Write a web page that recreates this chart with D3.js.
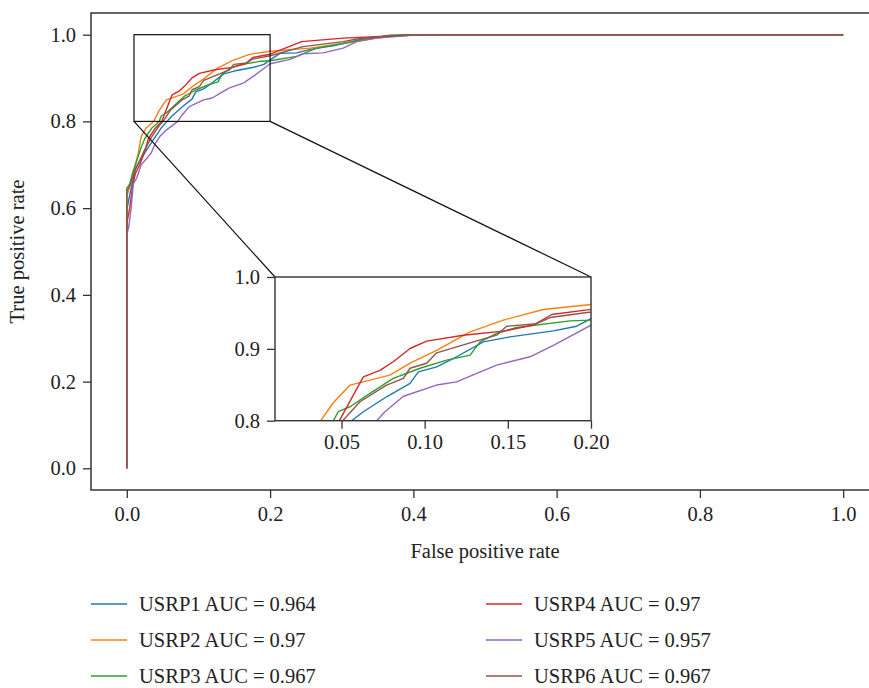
<!DOCTYPE html>
<html>
<head>
<meta charset="utf-8">
<script src="https://cdn.jsdelivr.net/npm/d3@7"></script>
<style>
    body { margin: 0; background: #fff; }
    text { font-family: "Liberation Serif", "Times New Roman", serif; fill: #222; }
</style>
</head>
<body>
<div id="chart"></div>
<script>
// ROC curves
const seriesNames = ["USRP1", "USRP2", "USRP3", "USRP4", "USRP5", "USRP6"];
const aucValues = ["0.964", "0.97", "0.967", "0.97", "0.957", "0.967"];
const colors = ["#1f77b4", "#ff7f0e", "#2ca02c", "#d62728", "#9467bd", "#8c564b"];

const fpr1 = [0, 0, 0.004, 0.008, 0.012, 0.02, 0.03, 0.04, 0.048, 0.0561, 0.0631, 0.0771, 0.0912, 0.0962, 0.1072, 0.1192, 0.1353, 0.1513, 0.1774, 0.1914, 0.2, 0.214, 0.237, 0.256, 0.29, 0.33, 0.37, 0.42, 1];
const tpr1 = [0, 0.596, 0.63, 0.66, 0.69, 0.715, 0.74, 0.765, 0.785, 0.8, 0.8125, 0.8333, 0.852, 0.868, 0.875, 0.889, 0.9097, 0.9167, 0.925, 0.9315, 0.942, 0.957, 0.958, 0.966, 0.975, 0.99, 0.998, 1, 1];

const fpr2 = [0, 0, 0.004, 0.008, 0.012, 0.016, 0.02, 0.027, 0.0375, 0.045, 0.0551, 0.0671, 0.0791, 0.0912, 0.1072, 0.1273, 0.1473, 0.1713, 0.2, 0.256, 0.311, 0.348, 0.39, 0.43, 1];
const tpr2 = [0, 0.627, 0.65, 0.68, 0.7, 0.727, 0.765, 0.785, 0.8, 0.825, 0.8496, 0.8565, 0.8635, 0.88, 0.898, 0.9236, 0.94, 0.9547, 0.9617, 0.969, 0.982, 0.992, 0.999, 1, 1];

const fpr3 = [0, 0, 0.004, 0.008, 0.012, 0.016, 0.02, 0.025, 0.035, 0.0451, 0.048, 0.0551, 0.0671, 0.0811, 0.0972, 0.1132, 0.1273, 0.1333, 0.1433, 0.1553, 0.1874, 0.2, 0.237, 0.265, 0.316, 0.367, 0.4, 1];
const tpr3 = [0, 0.646, 0.655, 0.68, 0.7, 0.72, 0.74, 0.76, 0.785, 0.8, 0.8125, 0.8194, 0.838, 0.859, 0.873, 0.8843, 0.8913, 0.9097, 0.9214, 0.9297, 0.9389, 0.94, 0.95, 0.969, 0.984, 0.999, 1, 1];

const fpr4 = [0, 0, 0.004, 0.008, 0.012, 0.018, 0.025, 0.03, 0.04, 0.0487, 0.0631, 0.0731, 0.0811, 0.0912, 0.1012, 0.1232, 0.1473, 0.1653, 0.1764, 0.2, 0.244, 0.302, 0.367, 0.41, 1];
const tpr4 = [0, 0.565, 0.6, 0.65, 0.68, 0.7, 0.73, 0.76, 0.785, 0.8, 0.861, 0.87, 0.882, 0.9005, 0.9107, 0.919, 0.9246, 0.933, 0.9478, 0.955, 0.984, 0.992, 0.997, 1, 1];

const fpr5 = [0, 0, 0.003, 0.006, 0.009, 0.014, 0.02, 0.028, 0.034, 0.04, 0.046, 0.055, 0.0711, 0.0761, 0.0872, 0.1072, 0.1192, 0.1313, 0.1433, 0.1633, 0.1774, 0.2, 0.228, 0.246, 0.274, 0.302, 0.321, 0.349, 0.4, 0.45, 1];
const tpr5 = [0, 0.538, 0.56, 0.6, 0.655, 0.67, 0.7, 0.715, 0.727, 0.75, 0.765, 0.78, 0.8, 0.8125, 0.834, 0.8496, 0.854, 0.866, 0.8774, 0.889, 0.905, 0.933, 0.943, 0.956, 0.958, 0.969, 0.984, 0.992, 0.999, 1, 1];

const fpr6 = [0, 0, 0.004, 0.008, 0.012, 0.018, 0.025, 0.035, 0.045, 0.0507, 0.0611, 0.0771, 0.0872, 0.0912, 0.1012, 0.1072, 0.1313, 0.1433, 0.1493, 0.1673, 0.1754, 0.2, 0.246, 0.302, 0.321, 0.367, 0.42, 1];
const tpr6 = [0, 0.64, 0.65, 0.67, 0.69, 0.71, 0.735, 0.765, 0.79, 0.8, 0.8264, 0.8496, 0.859, 0.873, 0.88, 0.8945, 0.911, 0.919, 0.9315, 0.935, 0.9436, 0.9514, 0.9725, 0.984, 0.99, 0.997, 1, 1];

const fprList = [fpr1, fpr2, fpr3, fpr4, fpr5, fpr6];
const tprList = [tpr1, tpr2, tpr3, tpr4, tpr5, tpr6];

const mainTicks = [0, 0.2, 0.4, 0.6, 0.8, 1.0];
const insetXTicks = [0.05, 0.10, 0.15, 0.20];
const insetYTicks = [0.8, 0.9, 1.0];
const zoomBox = {x0: 0.01, x1: 0.2, y0: 0.8, y1: 1.0};

const width = 869, height = 688;
const frameColor = "#333";

const svg = d3.select("#chart").append("svg")
    .attr("width", width)
    .attr("height", height);

const x = d3.scaleLinear().domain([-0.05, 1.05]).range([91, 879]);
const y = d3.scaleLinear().domain([-0.05, 1.05]).range([490, 13]);

const series = seriesNames.map((name, i) => ({
    name: name,
    auc: aucValues[i],
    color: colors[i],
    points: fprList[i].map((f, j) => [f, tprList[i][j]])
}));

function styleAxis(g) {
    g.select(".domain").remove();
    g.selectAll(".tick line").attr("stroke", frameColor).attr("stroke-width", 1.3);
    g.selectAll(".tick text")
        .attr("font-family", "'Liberation Serif', serif")
        .attr("font-size", 20.5)
        .attr("fill", "#222");
}

// Main axes
svg.append("g")
    .attr("transform", "translate(91,0)")
    .call(d3.axisLeft(y).tickValues(mainTicks).tickFormat(d3.format(".1f")).tickSize(8).tickPadding(7))
    .call(styleAxis);
svg.append("g")
    .attr("transform", "translate(0,490)")
    .call(d3.axisBottom(x).tickValues(mainTicks).tickFormat(d3.format(".1f")).tickSize(8).tickPadding(8))
    .call(styleAxis);

// Main lines
const mainLine = d3.line().x(d => x(d[0])).y(d => y(d[1]));
svg.append("g").selectAll("path")
    .data(series)
    .join("path")
    .attr("d", d => mainLine(d.points))
    .attr("fill", "none")
    .attr("stroke", d => d.color)
    .attr("stroke-width", 1.4)
    .attr("stroke-linejoin", "round");

// Frame (right spine falls outside the picture)
svg.append("rect")
    .attr("x", 91).attr("y", 13)
    .attr("width", 879 - 91).attr("height", 490 - 13)
    .attr("fill", "none")
    .attr("stroke", frameColor)
    .attr("stroke-width", 1.5);

// Axis titles
svg.append("text")
    .attr("x", x(0.5)).attr("y", 558)
    .attr("text-anchor", "middle")
    .attr("font-size", 20.5)
    .text("False positive rate");
svg.append("text")
    .attr("transform", "translate(24," + y(0.5) + ") rotate(-90)")
    .attr("text-anchor", "middle")
    .attr("font-size", 20.5)
    .text("True positive rate");

// Inset
const xi = d3.scaleLinear().domain([zoomBox.x0, zoomBox.x1]).range([275, 591]);
const yi = d3.scaleLinear().domain([zoomBox.y0, zoomBox.y1]).range([420.7, 277]);

// zoom rectangle + connectors
svg.append("rect")
    .attr("x", x(zoomBox.x0)).attr("y", y(zoomBox.y1))
    .attr("width", x(zoomBox.x1) - x(zoomBox.x0))
    .attr("height", y(zoomBox.y0) - y(zoomBox.y1))
    .attr("fill", "none")
    .attr("stroke", "#111")
    .attr("stroke-width", 1.2);
svg.append("line")
    .attr("x1", x(zoomBox.x0)).attr("y1", y(zoomBox.y0))
    .attr("x2", xi(zoomBox.x0)).attr("y2", yi(zoomBox.y1))
    .attr("stroke", "#111").attr("stroke-width", 1.2);
svg.append("line")
    .attr("x1", x(zoomBox.x1)).attr("y1", y(zoomBox.y0))
    .attr("x2", xi(zoomBox.x1)).attr("y2", yi(zoomBox.y1))
    .attr("stroke", "#111").attr("stroke-width", 1.2);

const inset = svg.append("g");
inset.append("rect")
    .attr("x", 275).attr("y", 277)
    .attr("width", 591 - 275).attr("height", 420.7 - 277)
    .attr("fill", "#fff");

svg.append("defs").append("clipPath")
    .attr("id", "inset-clip")
    .append("rect")
    .attr("x", 275).attr("y", 277)
    .attr("width", 591 - 275).attr("height", 420.7 - 277);

const insetLine = d3.line().x(d => xi(d[0])).y(d => yi(d[1]));
inset.append("g")
    .attr("clip-path", "url(#inset-clip)")
    .selectAll("path")
    .data(series)
    .join("path")
    .attr("d", d => insetLine(d.points))
    .attr("fill", "none")
    .attr("stroke", d => d.color)
    .attr("stroke-width", 1.4)
    .attr("stroke-linejoin", "round");

inset.append("g")
    .attr("transform", "translate(275,0)")
    .call(d3.axisLeft(yi).tickValues(insetYTicks).tickFormat(d3.format(".1f")).tickSize(8).tickPadding(7))
    .call(styleAxis);
inset.append("g")
    .attr("transform", "translate(0,420.7)")
    .call(d3.axisBottom(xi).tickValues(insetXTicks).tickFormat(d3.format(".2f")).tickSize(8).tickPadding(6))
    .call(styleAxis);

inset.append("rect")
    .attr("x", 275).attr("y", 277)
    .attr("width", 591 - 275).attr("height", 420.7 - 277)
    .attr("fill", "none")
    .attr("stroke", frameColor)
    .attr("stroke-width", 1.4);

// Legend: two columns of three
const legend = svg.append("g").selectAll("g")
    .data(series)
    .join("g")
    .attr("transform", (d, i) => "translate(" + (i < 3 ? 91 : 486) + "," + (604 + (i % 3) * 36) + ")");
legend.append("line")
    .attr("x1", 0).attr("x2", 36)
    .attr("stroke", d => d.color)
    .attr("stroke-width", 1.4);
legend.append("text")
    .attr("x", 48).attr("dy", "0.35em")
    .attr("font-size", 20.5)
    .text(d => d.name + " AUC = " + d.auc);
</script>
</body>
</html>
